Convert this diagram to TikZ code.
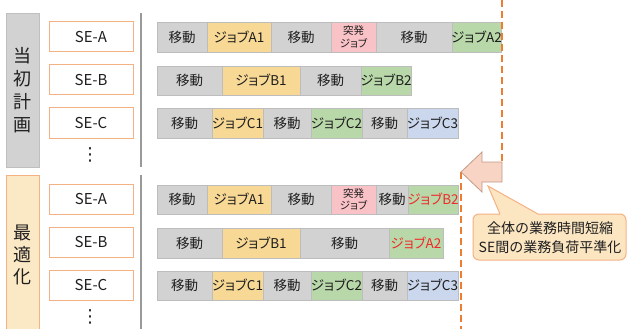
\documentclass[tikz,border=0pt]{standalone}
\usepackage{fontspec}
\setmainfont{Noto Sans CJK JP}
\newfontfamily\pjp{Noto Sans CJK JP}[RawFeature=+palt]
\newfontfamily\djv{DejaVu Sans}
\definecolor{segG}{HTML}{D2D2D2}
\definecolor{segY}{HTML}{F7D894}
\definecolor{segGr}{HTML}{B9D8AA}
\definecolor{segP}{HTML}{F8C2C6}
\definecolor{segB}{HTML}{CAD7EC}
\definecolor{segLine}{HTML}{BDBDBD}
\definecolor{orangeL}{HTML}{F4B183}
\definecolor{orangeD}{HTML}{ED7D31}
\definecolor{lblY}{HTML}{FBE8C4}
\definecolor{calloutF}{HTML}{FCE6C2}
\definecolor{arrowF}{HTML}{F8D4C4}
\definecolor{arrowD}{HTML}{C49A86}
\definecolor{txt}{HTML}{1E1E1E}
\definecolor{redT}{HTML}{EE2A2A}
\tikzset{
  segline/.style={draw=segLine, line width=0.8pt},
  segtext/.style={inner sep=0pt, text=txt, font=\fontsize{13.5}{15}\selectfont},
  jobtext/.style={segtext, font=\fontsize{13.5}{15}\selectfont\pjp},
  seboxst/.style={draw=orangeL, line width=1pt, fill=white},
  setext/.style={inner sep=0pt, text=txt, font=\fontsize{15}{17}\selectfont},
  dotst/.style={inner sep=0pt, text=txt, font=\fontsize{18}{18}\selectfont\djv},
  sep/.style={draw=black!40, line width=1.5pt},
  dline/.style={draw=orangeD, line width=2pt, dash pattern=on 7pt off 4pt},
}
\newcommand\seg[7]{%
  \draw[segline, fill=#6] (#2,#4) rectangle (#3,#5);
  \node[segtext] (#1) at ({(#2+#3)/2},{(#4+#5)/2}) {#7};}
\newcommand\jseg[8]{%
  \draw[segline, fill=#6] (#2,#4) rectangle (#3,#5);
  \node[jobtext, text=#8] (#1) at ({(#2+#3)/2},{(#4+#5)/2}) {#7};}
\newcommand\tseg[5]{%
  \draw[segline, fill=segP] (#2,#4) rectangle (#3,#5);
  \node[segtext, align=center, font=\fontsize{10.5}{12.5}\selectfont\pjp] (#1) at ({(#2+#3)/2},{(#4+#5)/2}) {突発\\ジョブ};}
\newcommand\sebox[4]{%
  \draw[seboxst] (49,#2) rectangle (133,#3);
  \node[setext] (#1) at (91,{(#2+#3)/2}) {#4};}
\begin{document}
\begin{tikzpicture}[x=1pt,y=-1pt]
\useasboundingbox (0,0) rectangle (627,329);
% left labels
\draw[draw=black!25, fill=segG] (6,13) rectangle (39,167);
\node[inner sep=0pt, align=center, text=txt, font=\fontsize{18}{23}\selectfont] (plan) at (22.5,90) {当\\初\\計\\画};
\draw[draw=orangeL, line width=1pt, fill=lblY] (6,175) rectangle (39,335);
\node[inner sep=0pt, align=center, text=txt, font=\fontsize{18}{22}\selectfont] (opt) at (22.5,255) {最\\適\\化};
% SE boxes
\sebox{sa}{22}{52}{SE-A}
\sebox{sb}{65}{95}{SE-B}
\sebox{sc}{108}{138}{SE-C}
\node[dotst] (d1) at (90,155) {⋮};
\sebox{sa2}{184}{214}{SE-A}
\sebox{sb2}{227}{257}{SE-B}
\sebox{sc2}{270}{300}{SE-C}
\node[dotst] (d2) at (90,317) {⋮};
% separators
\draw[sep] (141,13) -- (141,167);
\draw[sep] (141,175) -- (141,335);
% top row A
\seg{ta1}{157}{207}{22}{52}{segG}{移動}
\jseg{ta2}{207}{271}{22}{52}{segY}{ジョブA1}{txt}
\seg{ta3}{271}{331}{22}{52}{segG}{移動}
\tseg{ta4}{331}{376}{22}{52}
\seg{ta5}{376}{452}{22}{52}{segG}{移動}
\jseg{ta6}{452}{501}{22}{52}{segGr}{ジョブA2}{txt}
% top row B
\seg{tb1}{157}{222}{66}{95}{segG}{移動}
\jseg{tb2}{222}{300}{66}{95}{segY}{ジョブB1}{txt}
\seg{tb3}{300}{361}{66}{95}{segG}{移動}
\jseg{tb4}{361}{411}{66}{95}{segGr}{ジョブB2}{txt}
% top row C
\seg{tc1}{157}{212}{108}{138}{segG}{移動}
\jseg{tc2}{212}{263}{108}{138}{segY}{ジョブC1}{txt}
\seg{tc3}{263}{311}{108}{138}{segG}{移動}
\jseg{tc4}{311}{362}{108}{138}{segGr}{ジョブC2}{txt}
\seg{tc5}{362}{407}{108}{138}{segG}{移動}
\jseg{tc6}{407}{458}{108}{138}{segB}{ジョブC3}{txt}
% bottom row A
\seg{ba1}{157}{207}{185}{214}{segG}{移動}
\jseg{ba2}{207}{271}{185}{214}{segY}{ジョブA1}{txt}
\seg{ba3}{271}{331}{185}{214}{segG}{移動}
\tseg{ba4}{331}{376}{185}{214}
\seg{ba5}{376}{408}{185}{214}{segG}{移動}
\jseg{ba6}{408}{458}{185}{214}{segGr}{ジョブB2}{redT}
% bottom row B
\seg{bb1}{157}{222}{228}{258}{segG}{移動}
\jseg{bb2}{222}{300}{228}{258}{segY}{ジョブB1}{txt}
\seg{bb3}{300}{389}{228}{258}{segG}{移動}
\jseg{bb4}{389}{443}{228}{258}{segGr}{ジョブA2}{redT}
% bottom row C
\seg{bc1}{157}{212}{271}{300}{segG}{移動}
\jseg{bc2}{212}{263}{271}{300}{segY}{ジョブC1}{txt}
\seg{bc3}{263}{311}{271}{300}{segG}{移動}
\jseg{bc4}{311}{362}{271}{300}{segGr}{ジョブC2}{txt}
\seg{bc5}{362}{407}{271}{300}{segG}{移動}
\jseg{bc6}{407}{458}{271}{300}{segB}{ジョブC3}{txt}
% dashed lines
\coordinate (dt1) at (502,0);
\coordinate (dt2) at (502,162);
\coordinate (db1) at (461,172);
\coordinate (db2) at (461,335);
\draw[dline] (dt1) -- (dt2);
\draw[dline] (db1) -- (db2);
% block arrow
\draw[draw=arrowD, line width=0.8pt, fill=arrowF, line join=miter]
  (502,162) -- (482,162) -- (482,152) -- (461,172) -- (482,192) -- (482,182) -- (502,182) -- cycle;
% callout
\draw[draw=orangeL, line width=1pt, fill=calloutF]
  (500,214) -- (488,186) -- (538,214) [rounded corners=6pt] -- (626,214) -- (626,260) -- (473,260) -- (473,214) -- (500,214);
\node[inner sep=0pt, align=center, text=txt, font=\fontsize{14}{19}\selectfont] (note) at (550,237.5) {全体の業務時間短縮\\SE間の業務負荷平準化};
\end{tikzpicture}
\end{document}
